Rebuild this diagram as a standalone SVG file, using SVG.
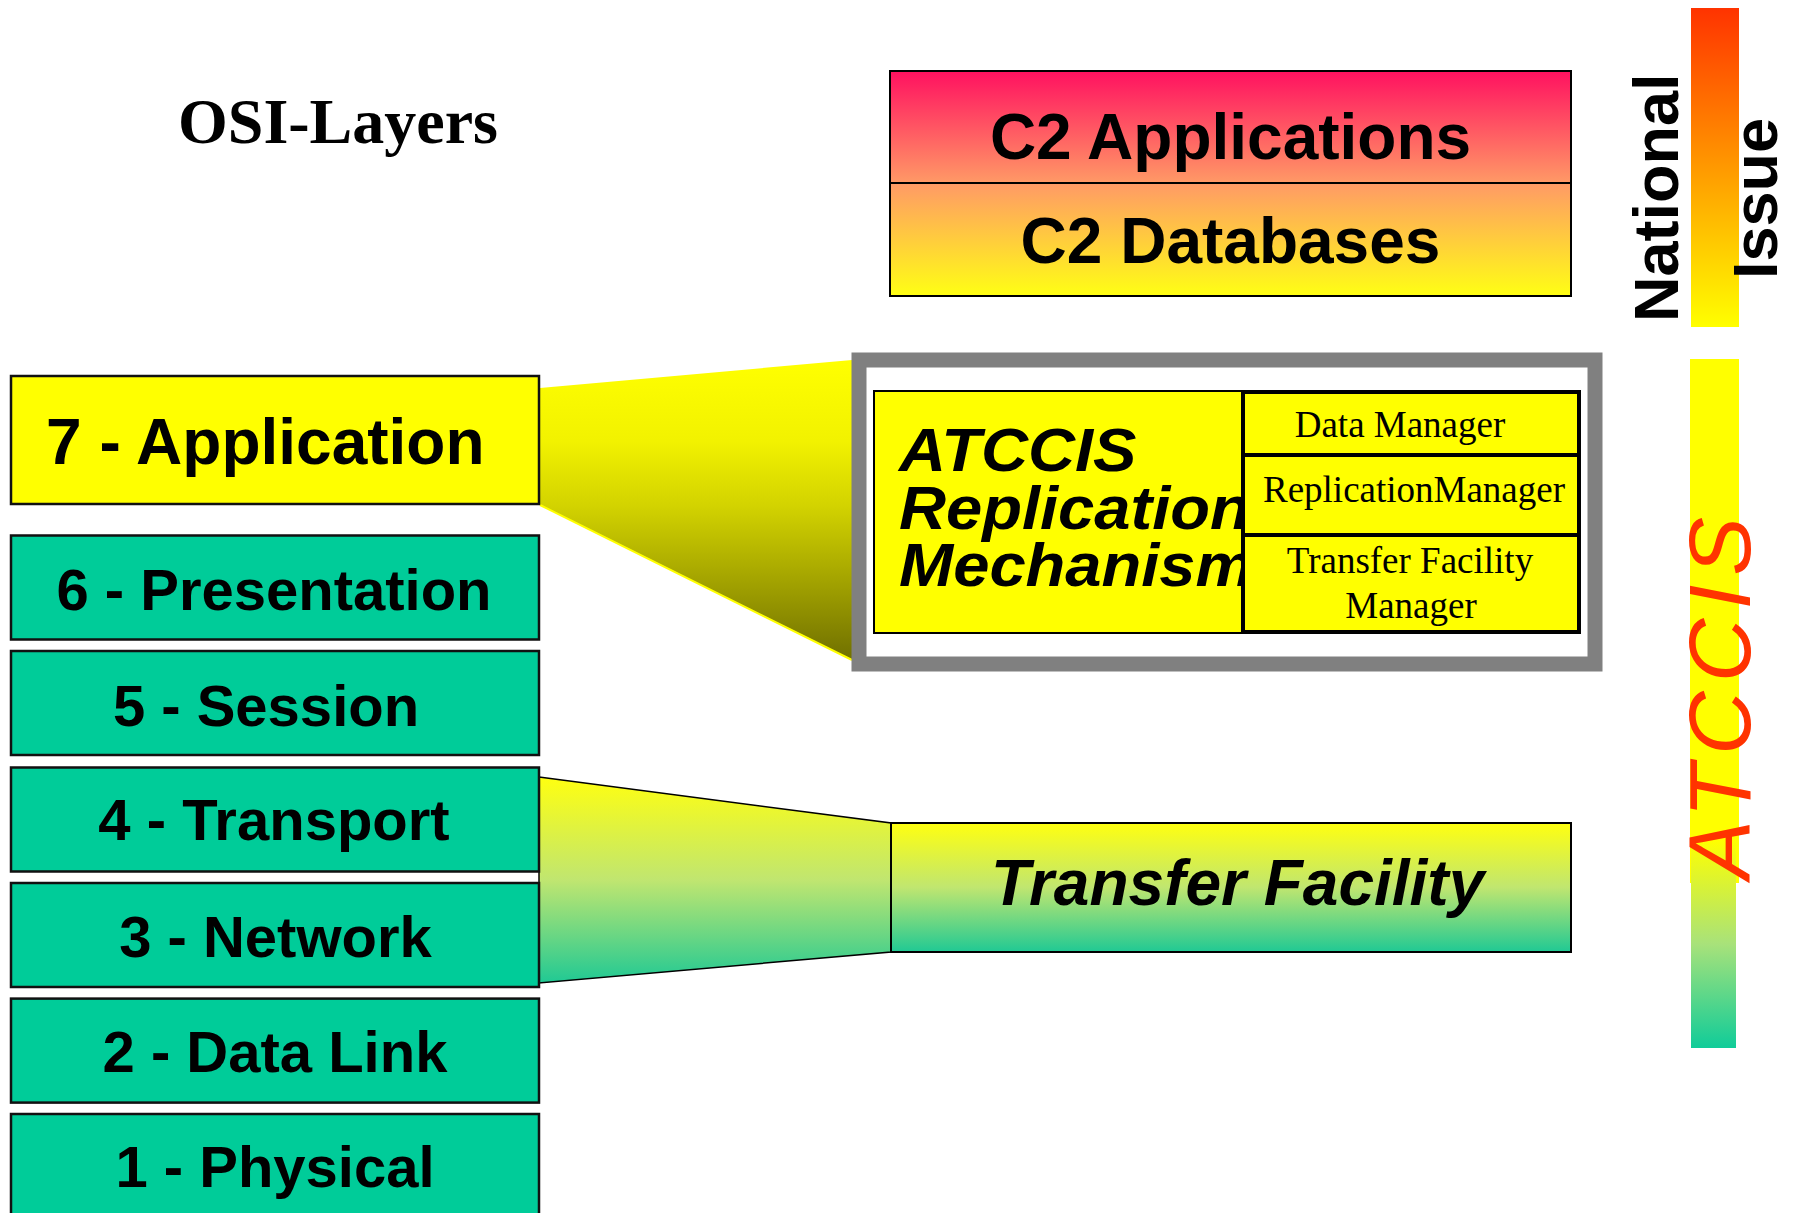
<svg xmlns="http://www.w3.org/2000/svg" width="1795" height="1213" viewBox="0 0 1795 1213">
<defs>
<linearGradient id="c2grad" gradientUnits="userSpaceOnUse" x1="0" y1="71" x2="0" y2="296">
<stop offset="0" stop-color="#FF1160"/><stop offset="0.5" stop-color="#FF9A66"/><stop offset="1" stop-color="#FFFF14"/>
</linearGradient>
<linearGradient id="natgrad" x1="0" y1="0" x2="0" y2="1">
<stop offset="0" stop-color="#FF3300"/><stop offset="1" stop-color="#FFFF00"/>
</linearGradient>
<linearGradient id="f7grad" gradientUnits="userSpaceOnUse" x1="0" y1="360" x2="0" y2="660">
<stop offset="0" stop-color="#FFFF00"/><stop offset="0.27" stop-color="#F2F200"/><stop offset="0.49" stop-color="#D2D200"/><stop offset="0.71" stop-color="#A8A800"/><stop offset="1" stop-color="#707000"/>
</linearGradient>
<linearGradient id="tfgrad" x1="0" y1="0" x2="0" y2="1">
<stop offset="0" stop-color="#FFFF10"/><stop offset="0.5" stop-color="#C0E670"/><stop offset="1" stop-color="#20C994"/>
</linearGradient>
<linearGradient id="atgrad" x1="0" y1="0" x2="0" y2="1">
<stop offset="0" stop-color="#FFFF00"/><stop offset="0.5" stop-color="#A8E27A"/><stop offset="1" stop-color="#10CC99"/>
</linearGradient>
</defs>
<style>
.layer{fill:#00CC99;stroke:#111;stroke-width:2.5}
.lt{font-family:"Liberation Sans",Arial,sans-serif;font-weight:bold;font-size:58px;fill:#000;text-anchor:middle}
.big{font-family:"Liberation Sans",Arial,sans-serif;font-weight:bold;font-size:64px;fill:#000}
.cell{fill:#FFFF00;stroke:#000;stroke-width:4}
.ct{font-family:"Liberation Serif","Times New Roman",serif;font-size:37px;fill:#000;text-anchor:middle}
.rm{font-family:"Liberation Sans",Arial,sans-serif;font-weight:bold;font-style:italic;font-size:62px;fill:#000}
</style>
<rect width="1795" height="1213" fill="#FFFFFF"/>

<g id="title">
<text x="178" y="143" style="font-family:'Liberation Serif','Times New Roman',serif;font-weight:bold;font-size:64px" fill="#000">OSI-Layers</text>
</g>

<g id="connectors">
<polygon points="540,388 852,360 852,660 540,505" fill="url(#f7grad)"/>
<line x1="540" y1="505" x2="852" y2="660" stroke="#FFFF00" stroke-width="2"/>
<polygon points="539,777 891,823 891,952 539,983" fill="url(#tfgrad)" stroke="#000" stroke-width="1.5"/>
</g>

<g id="layer7">
<rect x="11" y="376" width="528" height="128" fill="#FFFF00" stroke="#111" stroke-width="2.5"/>
<text class="big" x="46" y="464">7 - Application</text>
</g>
<g id="layer6">
<rect class="layer" x="11" y="535.5" width="528" height="104"/>
<text class="lt" x="274" y="610">6 - Presentation</text>
</g>
<g id="layer5">
<rect class="layer" x="11" y="651" width="528" height="104"/>
<text class="lt" x="266" y="725.5">5 - Session</text>
</g>
<g id="layer4">
<rect class="layer" x="11" y="767.5" width="528" height="104"/>
<text class="lt" x="274" y="840">4 - Transport</text>
</g>
<g id="layer3">
<rect class="layer" x="11" y="883" width="528" height="104"/>
<text class="lt" x="275.5" y="956.5">3 - Network</text>
</g>
<g id="layer2">
<rect class="layer" x="11" y="998.6" width="528" height="104"/>
<text class="lt" x="275" y="1072">2 - Data Link</text>
</g>
<g id="layer1">
<rect class="layer" x="11" y="1114" width="528" height="104"/>
<text class="lt" x="275" y="1187">1 - Physical</text>
</g>

<g id="c2">
<rect x="890" y="71" width="681" height="112" fill="url(#c2grad)" stroke="#000" stroke-width="2"/>
<rect x="890" y="183" width="681" height="113" fill="url(#c2grad)" stroke="#000" stroke-width="2"/>
<text class="big" x="1230.5" y="159" text-anchor="middle">C2 Applications</text>
<text class="big" x="1230.5" y="263" text-anchor="middle">C2 Databases</text>
</g>

<g id="national">
<rect x="1691" y="8" width="48" height="319" fill="url(#natgrad)"/>
<text class="big" transform="translate(1678,322) rotate(-90)" style="font-size:63px">National</text>
<text class="big" transform="translate(1777,279) rotate(-90)" style="font-size:63px">Issue</text>
</g>

<g id="replication">
<rect x="859" y="360" width="736" height="304" fill="#FFFFFF" stroke="#808080" stroke-width="15"/>
<rect x="874" y="391" width="369" height="242" fill="#FFFF00" stroke="#000" stroke-width="2"/>
<g transform="translate(899,0) scale(1.05,1)">
<text class="rm" x="0" y="471">ATCCIS</text>
<text class="rm" x="0" y="529">Replication</text>
<text class="rm" x="0" y="586">Mechanism</text>
</g>
<rect class="cell" x="1243" y="392" width="336" height="63"/>
<rect class="cell" x="1243" y="455" width="336" height="80"/>
<rect class="cell" x="1243" y="535" width="336" height="97"/>
<text class="ct" x="1400" y="437">Data Manager</text>
<text class="ct" x="1414" y="502">ReplicationManager</text>
<text class="ct" x="1410" y="573">Transfer Facility</text>
<text class="ct" x="1411" y="618">Manager</text>
</g>

<g id="transfer">
<rect x="891" y="823" width="680" height="129" fill="url(#tfgrad)" stroke="#000" stroke-width="2"/>
<text x="991" y="905" style="font-family:'Liberation Sans',Arial,sans-serif;font-weight:bold;font-style:italic;font-size:64px" fill="#000">Transfer Facility</text>
</g>

<g id="atccis">
<rect x="1690" y="359" width="49" height="524" fill="#FFFF00"/>
<rect x="1691" y="840" width="45" height="208" fill="url(#atgrad)"/>
<text transform="translate(1750,879) rotate(-90)" textLength="362" lengthAdjust="spacing" style="font-family:'Liberation Sans',Arial,sans-serif;font-style:italic;font-size:88px" fill="#FF3300">ATCCIS</text>
</g>
</svg>
